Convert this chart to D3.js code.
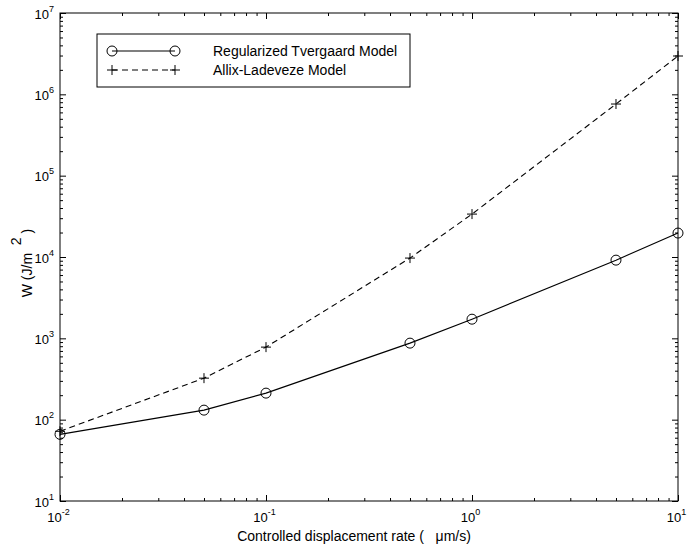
<!DOCTYPE html>
<html><head><meta charset="utf-8">
<script src="https://cdn.jsdelivr.net/npm/d3@7"></script>
<style>
body{margin:0;background:#fff;}
svg{font-family:"Liberation Sans",Arial,Helvetica,sans-serif;}
</style></head>
<body>
<svg id="c" width="687" height="550"></svg>
<script>
const rates = [0.01, 0.05, 0.1, 0.5, 1, 5, 10];
const tvergaard = [66, 131, 212, 873, 1720, 9150, 19700];
const allix = [72, 324, 780, 9700, 33700, 760000, 2960000];
const seriesNames = ["Regularized Tvergaard Model", "Allix-Ladeveze Model"];
const xMajor = [0.01, 0.1, 1, 10];
const xMajorExp = ["-2", "-1", "0", "1"];
const yMajor = [1e1, 1e2, 1e3, 1e4, 1e5, 1e6, 1e7];
const yMajorExp = ["1", "2", "3", "4", "5", "6", "7"];
const xLabel = "Controlled displacement rate (   \u03bcm/s)";

const L = 60, R = 678, T = 13, B = 501;
const svg = d3.select("#c");
const x = d3.scaleLog().domain([0.01, 10]).range([L, R]);
const y = d3.scaleLog().domain([10, 1e7]).range([B, T]);

function addAxis(gen, tx, ty, vals, size) {
  const g = svg.append("g").attr("transform", `translate(${tx},${ty})`)
    .call(gen.tickValues(vals).tickSize(size).tickFormat(""));
  g.select(".domain").remove();
  g.selectAll("line").attr("stroke", "#000").attr("stroke-width", 1);
  return g;
}
const xMinor = x.ticks().filter(v => !xMajor.some(m => Math.abs(m - v) / m < 1e-6));
const yMinor = y.ticks().filter(v => !yMajor.some(m => Math.abs(m - v) / m < 1e-6));

addAxis(d3.axisBottom(x), 0, B, xMinor, -3);
addAxis(d3.axisTop(x), 0, T, xMinor, -3);
addAxis(d3.axisLeft(y), L, 0, yMinor, -3);
addAxis(d3.axisRight(y), R, 0, yMinor, -3);
const gxB = addAxis(d3.axisBottom(x), 0, B, xMajor, -6);
addAxis(d3.axisTop(x), 0, T, xMajor, -6);
const gyL = addAxis(d3.axisLeft(y), L, 0, yMajor, -6);
addAxis(d3.axisRight(y), R, 0, yMajor, -6);

// frame
svg.append("rect").attr("x", L).attr("y", T).attr("width", R - L).attr("height", B - T)
  .attr("fill", "none").attr("stroke", "#000").attr("stroke-width", 1);

// tick labels
gxB.selectAll(".tick text").remove();
gxB.selectAll(".tick").each(function(d, i) {
  const t = d3.select(this).append("text").attr("y", 21).attr("x", -2)
    .attr("text-anchor", "middle").attr("fill", "#000").attr("font-size", 13);
  t.append("tspan").text("10");
  t.append("tspan").attr("dy", -7).attr("font-size", 9).text(xMajorExp[i]);
});
gyL.selectAll(".tick text").remove();
gyL.selectAll(".tick").each(function(d, i) {
  const t = d3.select(this).append("text").attr("x", -6).attr("y", 5)
    .attr("text-anchor", "end").attr("fill", "#000").attr("font-size", 13);
  t.append("tspan").text("10");
  t.append("tspan").attr("dy", -7).attr("font-size", 9).text(yMajorExp[i]);
});

// axis labels
svg.append("text").attr("x", 354).attr("y", 541).attr("text-anchor", "middle")
  .attr("font-size", 14).attr("fill", "#000").style("white-space", "pre").text(xLabel);
const yl = svg.append("text").attr("transform", "translate(32,263) rotate(-90)")
  .attr("text-anchor", "middle").attr("font-size", 14).attr("fill", "#000").style("white-space", "pre");
yl.append("tspan").text("W (J/m ");
yl.append("tspan").attr("dy", -11).text(" 2");
yl.append("tspan").attr("dy", 11).text(" )");

// data
const line = d3.line().x(d => x(d[0])).y(d => y(d[1]));
const d1 = rates.map((r, i) => [r, tvergaard[i]]);
const d2 = rates.map((r, i) => [r, allix[i]]);
svg.append("path").datum(d1).attr("d", line).attr("fill", "none").attr("stroke", "#000").attr("stroke-width", 1.1);
svg.append("path").datum(d2).attr("d", line).attr("fill", "none").attr("stroke", "#000").attr("stroke-width", 1.1)
  .attr("stroke-dasharray", "6,4");
svg.selectAll(".circ").data(d1).enter().append("circle")
  .attr("cx", d => x(d[0])).attr("cy", d => y(d[1])).attr("r", 5)
  .attr("fill", "none").attr("stroke", "#000").attr("stroke-width", 1);
function plusPath(cx, cy, s) { return `M${cx - s},${cy}H${cx + s}M${cx},${cy - s}V${cy + s}`; }
svg.selectAll(".plus").data(d2).enter().append("path")
  .attr("d", d => plusPath(x(d[0]), y(d[1]), 5))
  .attr("fill", "none").attr("stroke", "#000").attr("stroke-width", 1);

// legend
const lg = svg.append("g");
lg.append("rect").attr("x", 97).attr("y", 34).attr("width", 313).attr("height", 53)
  .attr("fill", "#fff").attr("stroke", "#000").attr("stroke-width", 1);
lg.append("line").attr("x1", 112).attr("x2", 175).attr("y1", 51).attr("y2", 51).attr("stroke", "#000").attr("stroke-width", 1.1);
[112, 175].forEach(cx => lg.append("circle").attr("cx", cx).attr("cy", 51).attr("r", 5)
  .attr("fill", "none").attr("stroke", "#000"));
lg.append("line").attr("x1", 112).attr("x2", 175).attr("y1", 70).attr("y2", 70).attr("stroke", "#000")
  .attr("stroke-width", 1.1).attr("stroke-dasharray", "6,4");
[112, 175].forEach(cx => lg.append("path").attr("d", plusPath(cx, 70, 5)).attr("stroke", "#000").attr("fill", "none"));
lg.append("text").attr("x", 213).attr("y", 56).attr("font-size", 14).attr("fill", "#000").text(seriesNames[0]);
lg.append("text").attr("x", 213).attr("y", 75).attr("font-size", 14).attr("fill", "#000").text(seriesNames[1]);
</script>
</body></html>
